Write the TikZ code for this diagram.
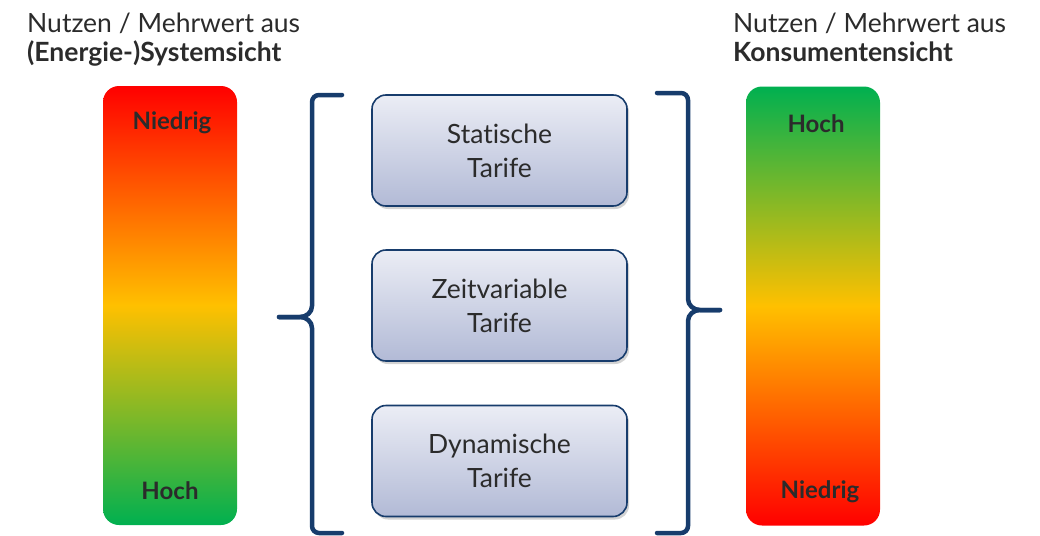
\documentclass[tikz,border=0pt]{standalone}
\usepackage{fontspec}
\setmainfont[Ligatures={NoCommon}]{Lato}
\usetikzlibrary{shadows}
\definecolor{navy}{HTML}{173C6C}
\definecolor{txt}{HTML}{2B2B2B}
\definecolor{boxtop}{HTML}{EBEDF5}
\definecolor{boxbot}{HTML}{B2BAD6}
\definecolor{bred}{HTML}{FF0000}
\definecolor{byel}{HTML}{FFC000}
\definecolor{bgreen}{HTML}{00B050}
\pgfdeclareverticalshading{sysgrad}{100bp}{color(0bp)=(bgreen); color(25bp)=(bgreen); color(50bp)=(byel); color(75bp)=(bred); color(100bp)=(bred)}
\pgfdeclareverticalshading{kongrad}{100bp}{color(0bp)=(bred); color(25bp)=(bred); color(50bp)=(byel); color(75bp)=(bgreen); color(100bp)=(bgreen)}
\tikzset{
  bar/.style={shade, minimum width=134pt, minimum height=439pt, rounded corners=16pt, inner sep=0pt, draw=none},
  barlabel/.style={text=txt, font=\fontsize{24}{28}\selectfont\bfseries, inner sep=0pt},
  title/.style={text=txt, anchor=base west, inner sep=0pt, font=\fontsize{26.5}{30}\selectfont},
  tarif/.style={draw=navy, line width=1.6pt, rounded corners=14pt, top color=boxtop, bottom color=boxbot,
    minimum width=255pt, minimum height=111pt, align=center, text=txt,
    font=\fontsize{26.5}{34}\selectfont,
    drop shadow={opacity=0.35, shadow xshift=2pt, shadow yshift=-3pt}},
  brace/.style={draw=navy, line width=4.5pt, line cap=round, line join=round}
}
\begin{document}
\begin{tikzpicture}[x=1pt, y=-1pt]
\useasboundingbox (0,0) rectangle (1040,535);
% titles
\node[title] (t1a) at (27,33) {Nutzen / Mehrwert aus};
\node[title, font=\fontsize{26.5}{30}\selectfont\bfseries] (t1b) at (27,61) {(Energie-)Systemsicht};
\node[title] (t2a) at (733,33) {Nutzen / Mehrwert aus};
\node[title, font=\fontsize{26.5}{30}\selectfont\bfseries] (t2b) at (733,61) {Konsumentensicht};
% bars
\node[bar, shading=sysgrad] (lbar) at (170,305.5) {};
\node[barlabel] (lniedrig) at (172,123) {Niedrig};
\node[barlabel] (lhoch) at (170,491) {Hoch};
\node[bar, shading=kongrad] (rbar) at (813,306) {};
\node[barlabel] (rhoch) at (816,124) {Hoch};
\node[barlabel] (rniedrig) at (820,492) {Niedrig};
% boxes
\node[tarif] (b1) at (499.5,150.5) {Statische\\Tarife};
\node[tarif] (b2) at (499.5,305.5) {Zeitvariable\\Tarife};
\node[tarif] (b3) at (499.5,461) {Dynamische\\Tarife};
% left brace
\draw[brace] (342,95) -- (319,95) to[out=180,in=90] (312,102) -- (312,306)
  to[out=-90,in=0] (300,317) -- (279,317);
\draw[brace] (279,317) -- (300,317) to[out=0,in=90] (312,328) -- (312,526)
  to[out=-90,in=180] (319,533) -- (342,533);
% right brace
\draw[brace] (657,93) -- (681,93) to[out=0,in=90] (688,100) -- (688,299)
  to[out=-90,in=180] (700,310) -- (720,310);
\draw[brace] (720,310) -- (700,310) to[out=180,in=90] (688,321) -- (688,526)
  to[out=-90,in=0] (681,533) -- (657,533);
\end{tikzpicture}
\end{document}
